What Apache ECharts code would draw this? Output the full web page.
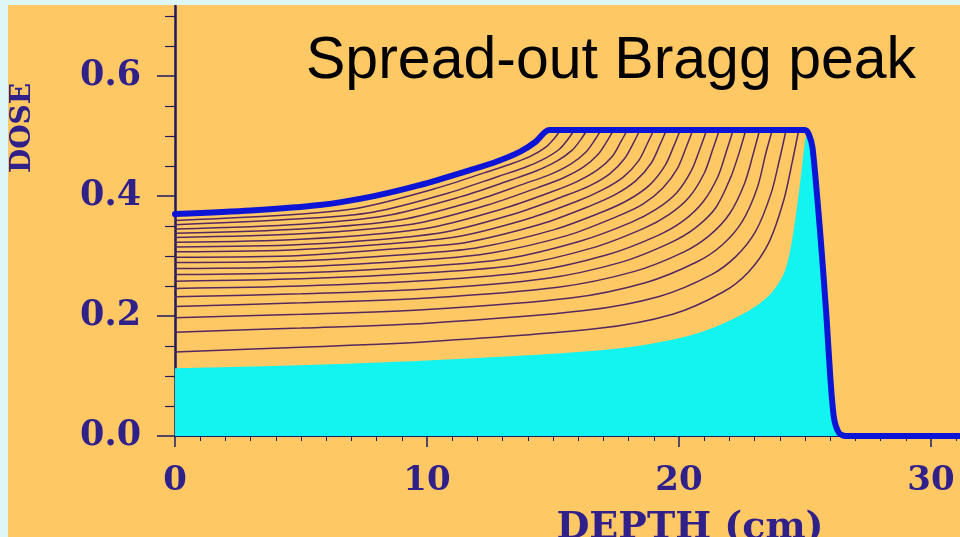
<!DOCTYPE html>
<html><head><meta charset="utf-8">
<script src="https://cdn.jsdelivr.net/npm/echarts@6/dist/echarts.min.js"></script>
<style>html,body{margin:0;padding:0;background:#FEC865;} #c{width:960px;height:537px;}</style>
</head><body><div id="c"></div>
<script>
// ---- data (depth cm, dose) ----
const xMajorTicks = [0, 10, 20, 30];
const xMinorTicks = [1,2,3,4,5,6,7,8,9,11,12,13,14,15,16,17,18,19,21,22,23,24,25,26,27,28,29,31];
const yMajorTicks = [0.0, 0.2, 0.4, 0.6];
const yMinorTicks = [0.05,0.1,0.15,0.25,0.3,0.35,0.45,0.5,0.55,0.65,0.7];

const sobp = [[0,0.37],[3,0.376],[5.75,0.385],[7.8,0.399],[9.7,0.418],[11.7,0.443],[12.8,0.458],[13.7,0.474],[14.3,0.49],[14.85,0.51],[25.0,0.51],[25.15,0.503],[25.3,0.48],[25.6,0.34],[25.85,0.2],[26.0,0.1],[26.15,0.03],[26.35,0.005],[26.6,0],[31.2,0]];
const pristine = [[0,0.113],[5,0.118],[10,0.126],[15,0.137],[18,0.148],[20,0.163],[21,0.175],[22,0.192],[23,0.215],[23.7,0.24],[24.2,0.275],[24.5,0.33],[24.8,0.42],[25.0,0.49],[25.1,0.505],[25.3,0.48],[25.6,0.34],[25.85,0.2],[26.0,0.1],[26.15,0.03],[26.35,0.005],[26.6,0]];

const thin01 = [[0,0.140],[5,0.148],[10,0.157],[16.75,0.179],[19.75,0.203],[21.75,0.240],[22.75,0.273],[23.55,0.321],[24.15,0.392],[24.5,0.458],[24.75,0.51]];
const thin02 = [[0,0.173],[5,0.180],[10,0.188],[16.25,0.209],[19.25,0.233],[21.25,0.268],[22.25,0.299],[23.05,0.342],[23.65,0.404],[24.0,0.463],[24.25,0.51]];
const thin03 = [[0,0.197],[5,0.203],[10,0.211],[15.7,0.230],[18.7,0.256],[20.7,0.290],[21.7,0.318],[22.5,0.357],[23.1,0.413],[23.45,0.472],[23.7,0.51]];
const thin04 = [[0,0.216],[5,0.222],[10,0.230],[15.2,0.248],[18.2,0.274],[20.2,0.307],[21.2,0.334],[22.0,0.370],[22.6,0.421],[22.95,0.471],[23.2,0.51]];
const thin05 = [[0,0.232],[5,0.237],[10,0.245],[14.65,0.262],[17.65,0.289],[19.65,0.322],[20.65,0.347],[21.45,0.380],[22.05,0.431],[22.4,0.474],[22.65,0.51]];
const thin06 = [[0,0.246],[5,0.250],[10,0.259],[14.15,0.274],[17.15,0.302],[19.15,0.334],[20.15,0.358],[20.95,0.390],[21.55,0.433],[21.9,0.477],[22.15,0.51]];
const thin07 = [[0,0.258],[5,0.262],[10,0.272],[13.6,0.285],[16.6,0.314],[18.6,0.346],[19.6,0.369],[20.4,0.398],[21.0,0.438],[21.35,0.479],[21.6,0.51]];
const thin08 = [[0,0.269],[5,0.272],[10,0.283],[13.1,0.295],[16.1,0.325],[18.1,0.356],[19.1,0.378],[19.9,0.405],[20.5,0.443],[20.85,0.481],[21.1,0.51]];
const thin09 = [[0,0.279],[5,0.282],[10,0.294],[12.55,0.305],[15.55,0.334],[17.55,0.366],[18.55,0.386],[19.35,0.413],[19.95,0.447],[20.3,0.483],[20.55,0.51]];
const thin10 = [[0,0.289],[5,0.292],[10,0.305],[12.05,0.314],[15.05,0.344],[17.05,0.375],[18.05,0.395],[18.85,0.419],[19.45,0.451],[19.8,0.484],[20.05,0.51]];
const thin11 = [[0,0.298],[5,0.301],[10,0.316],[11.5,0.322],[14.5,0.353],[16.5,0.384],[17.5,0.403],[18.3,0.426],[18.9,0.455],[19.25,0.486],[19.5,0.51]];
const thin12 = [[0,0.307],[5,0.311],[11,0.331],[14,0.362],[16,0.392],[17,0.411],[17.8,0.432],[18.4,0.459],[18.75,0.488],[19.0,0.51]];
const thin13 = [[0,0.315],[5,0.319],[10.45,0.338],[13.45,0.370],[15.45,0.400],[16.45,0.417],[17.25,0.437],[17.85,0.463],[18.2,0.489],[18.45,0.51]];
const thin14 = [[0,0.323],[5,0.328],[9.95,0.346],[12.95,0.378],[14.95,0.407],[15.95,0.424],[16.75,0.443],[17.35,0.466],[17.7,0.491],[17.95,0.51]];
const thin15 = [[0,0.331],[5,0.337],[9.4,0.353],[12.4,0.385],[14.4,0.414],[15.4,0.430],[16.2,0.448],[16.8,0.470],[17.15,0.492],[17.4,0.51]];
const thin16 = [[0,0.338],[5,0.345],[8.9,0.360],[11.9,0.392],[13.9,0.421],[14.9,0.436],[15.7,0.453],[16.3,0.473],[16.65,0.493],[16.9,0.51]];
const thin17 = [[0,0.345],[5,0.353],[8.35,0.367],[11.35,0.399],[13.35,0.427],[14.35,0.442],[15.15,0.458],[15.75,0.476],[16.1,0.494],[16.35,0.51]];
const thin18 = [[0,0.352],[5,0.362],[7.85,0.373],[10.85,0.405],[12.85,0.433],[13.85,0.447],[14.65,0.462],[15.25,0.478],[15.6,0.495],[15.85,0.51]];
const thin19 = [[0,0.359],[5,0.370],[7.3,0.380],[10.3,0.412],[12.3,0.439],[13.3,0.453],[14.1,0.466],[14.7,0.481],[15.05,0.496],[15.3,0.51]];
const thinLines = [thin01,thin02,thin03,thin04,thin05,thin06,thin07,thin08,thin09,thin10,thin11,thin12,thin13,thin14,thin15,thin16,thin17,thin18,thin19];

const titleText = 'Spread-out Bragg peak';
const xName = 'DEPTH (cm)';
const yName = 'DOSE';

// ---- styling ----
const axisColor = '#1e1a5c';
const labelColor = '#30208a';
const serif = '"DejaVu Serif", serif';
const X_MAX = 31.15, Y_MAX = 0.7167;

const chart = echarts.init(document.getElementById('c'), null, {renderer: 'canvas'});

const series = [];
series.push({
  type: 'line', data: pristine, showSymbol: false, smooth: 0.3, silent: true,
  lineStyle: {width: 0}, areaStyle: {color: '#12F4EF', opacity: 1, origin: 'start'}, z: 2
});
thinLines.forEach(d => series.push({
  type: 'line', data: d, showSymbol: false, smooth: 0.3, silent: true,
  lineStyle: {color: '#55285f', width: 1.5}, z: 3
}));
series.push({
  type: 'line', data: sobp, showSymbol: false, smooth: 0.25, silent: true, clip: false,
  lineStyle: {color: '#0c14d6', width: 6, join: 'round', cap: 'round'}, z: 4
});

const option = {
  backgroundColor: '#FEC865',
  animation: false,
  grid: {left: 175, right: 0, top: 6, bottom: 101, containLabel: false},
  xAxis: [
    {type: 'value', min: 0, max: X_MAX, position: 'bottom',
     axisLine: {show: true, onZero: false, lineStyle: {color: axisColor, width: 2}},
     axisTick: {show: true, length: 11, customValues: xMajorTicks, lineStyle: {color: axisColor, width: 1.5}},
     axisLabel: {margin: 28, customValues: xMajorTicks, color: labelColor, fontFamily: serif, fontWeight: 'bold', fontSize: 34},
     splitLine: {show: false}},
    {type: 'value', min: 0, max: X_MAX, position: 'bottom',
     axisLine: {show: false},
     axisTick: {show: true, length: 5, customValues: xMinorTicks, lineStyle: {color: axisColor, width: 1}},
     axisLabel: {show: false}, splitLine: {show: false}}
  ],
  yAxis: [
    {type: 'value', min: 0, max: Y_MAX, position: 'left',
     axisLine: {show: true, onZero: false, lineStyle: {color: axisColor, width: 2.5}},
     axisTick: {show: true, length: 18, customValues: yMajorTicks, lineStyle: {color: axisColor, width: 1.5}},
     axisLabel: {margin: 34, customValues: yMajorTicks, color: labelColor, fontFamily: serif, fontWeight: 'bold', fontSize: 35,
                 formatter: v => v.toFixed(1)},
     splitLine: {show: false}},
    {type: 'value', min: 0, max: Y_MAX, position: 'left',
     axisLine: {show: false},
     axisTick: {show: true, length: 10, customValues: yMinorTicks, lineStyle: {color: axisColor, width: 1.2}},
     axisLabel: {show: false}, splitLine: {show: false}}
  ],
  graphic: [
    {type: 'rect', left: 0, top: 0, z: 100, shape: {width: 8, height: 537}, style: {fill: '#DCF7F5'}},
    {type: 'rect', left: 0, top: 0, z: 100, shape: {width: 960, height: 5}, style: {fill: '#DCF7F5'}},
    {type: 'text', x: 306, y: 32, z: 50,
     style: {text: titleText, fontFamily: '"Liberation Sans", Arial, sans-serif', fontSize: 59, fill: '#000', align: 'left', verticalAlign: 'top'}},
    {type: 'text', x: 23, y: 128, rotation: Math.PI / 2, z: 50,
     style: {text: yName, fontFamily: serif, fontWeight: 'bold', fontSize: 28, fill: labelColor, align: 'center', verticalAlign: 'middle'}},
    {type: 'text', x: 690, y: 509, z: 50,
     style: {text: xName, fontFamily: serif, fontWeight: 'bold', fontSize: 38, fill: labelColor, align: 'center', verticalAlign: 'top'}}
  ],
  series: series
};
chart.setOption(option);
</script>
</body></html>
